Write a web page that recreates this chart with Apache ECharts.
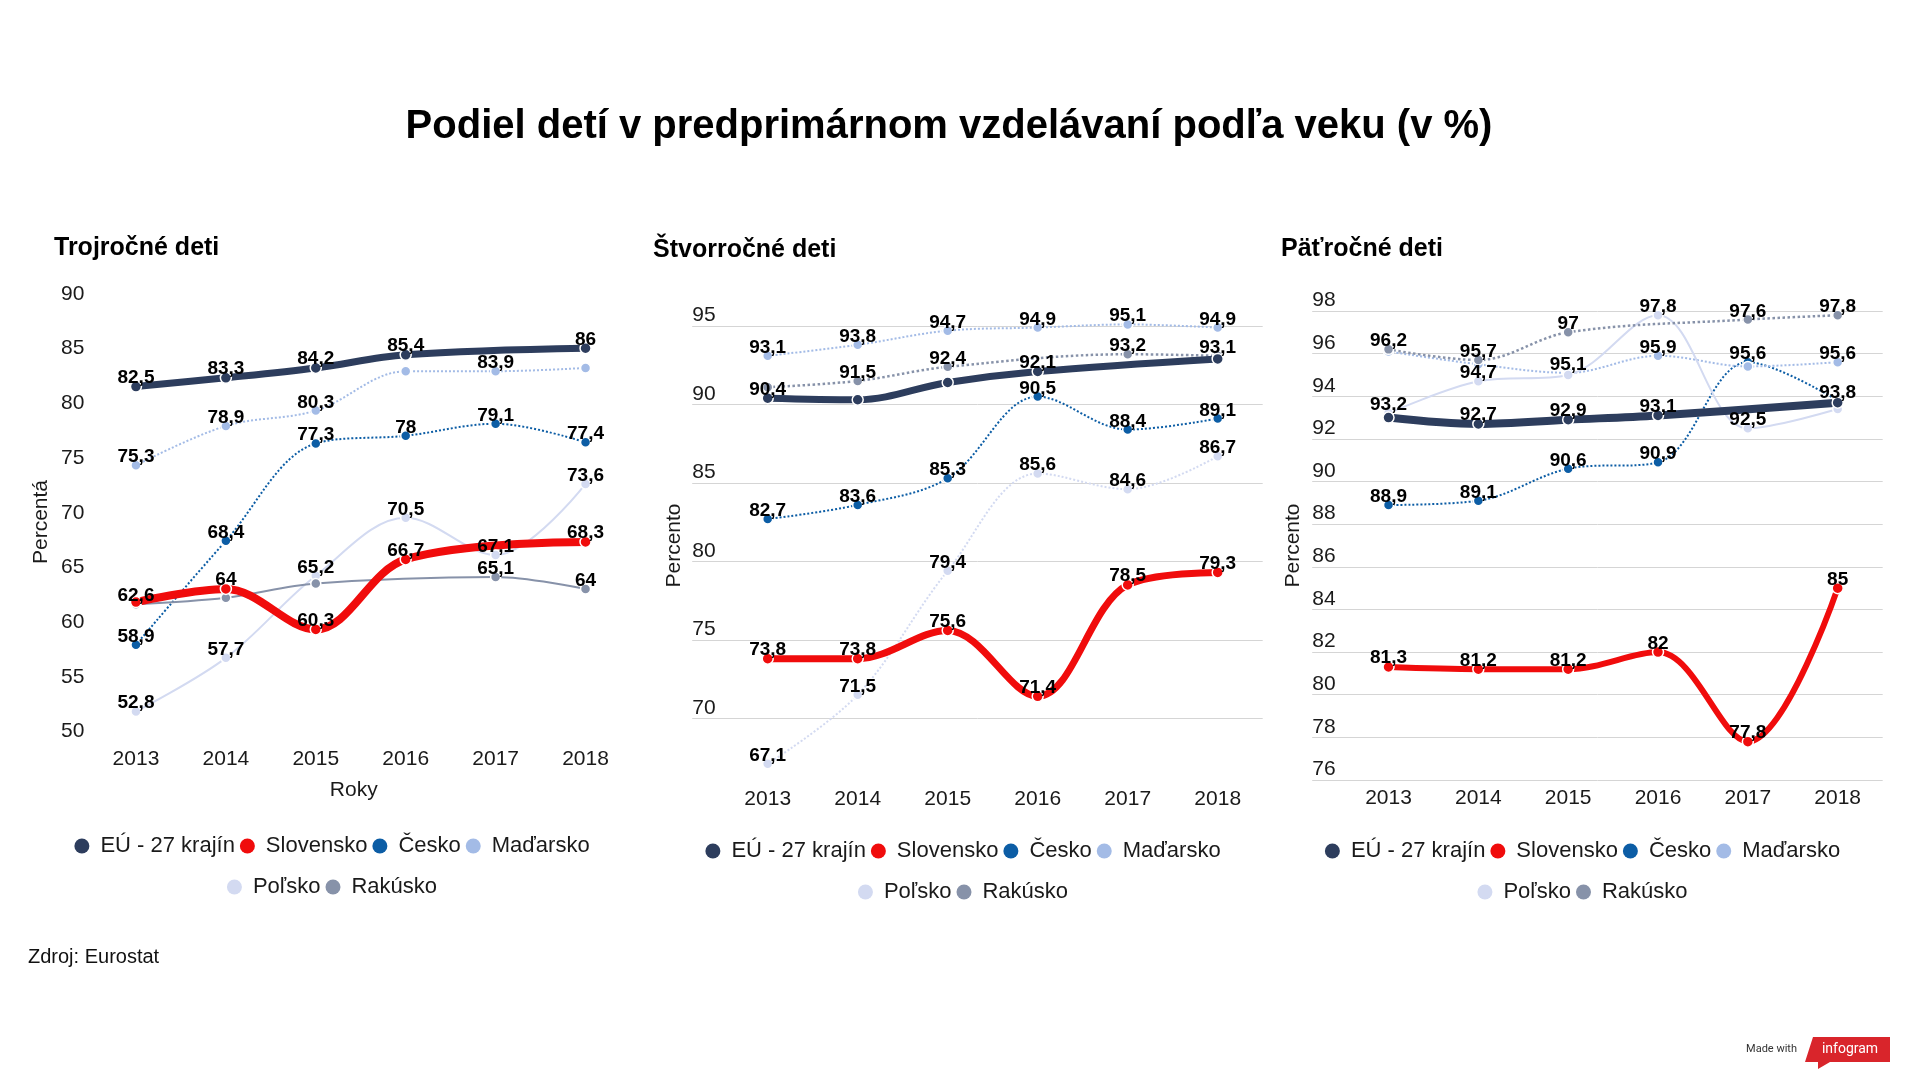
<!DOCTYPE html>
<html><head><meta charset="utf-8">
<script src="https://cdn.jsdelivr.net/npm/echarts@6/dist/echarts.min.js"></script>
<style>
html,body{margin:0;padding:0;background:#fff;width:1920px;height:1080px;overflow:hidden}
.c{position:absolute;top:0;height:1080px}
</style></head><body>
<div id="main" class="c" style="left:0;width:1920px"></div>
<div id="c1" class="c" style="left:0;width:664px"></div>
<div id="c2" class="c" style="left:643px;width:640px"></div>
<div id="c3" class="c" style="left:1245px;width:675px"></div>
<script>
// ---------- data ----------
const years = ['2013', '2014', '2015', '2016', '2017', '2018'];
const countries = ['EÚ - 27 krajín', 'Slovensko', 'Česko', 'Maďarsko', 'Poľsko', 'Rakúsko'];

// Trojročné deti (3-year-olds)
const age3EU = [82.5, 83.3, 84.2, 85.4, null, 86];
const age3SK = [62.8, 64, 60.3, 66.7, null, 68.3];
const age3CZ = [58.9, 68.4, 77.3, 78, 79.1, 77.4];
const age3HU = [75.3, 78.9, 80.3, 83.9, 83.9, 84.2];
const age3PL = [52.8, 57.7, 65.2, 70.5, 67.1, 73.6];
const age3AT = [62.6, 63.2, 64.5, null, 65.1, 64];

// Štvorročné deti (4-year-olds)
const age4EU = [90.4, 90.3, 91.4, 92.1, null, 92.9];
const age4SK = [73.8, 73.8, 75.6, 71.4, 78.5, 79.3];
const age4CZ = [82.7, 83.6, 85.3, 90.5, 88.4, 89.1];
const age4HU = [93.1, 93.8, 94.7, 94.9, 95.1, 94.9];
const age4PL = [67.1, 71.5, 79.4, 85.6, 84.6, 86.7];
const age4AT = [91.1, 91.5, 92.4, null, 93.2, 93.1];

// Päťročné deti (5-year-olds)
const age5EU = [93.0, 92.7, 92.9, 93.1, null, 93.7];
const age5SK = [81.3, 81.2, 81.2, 82, 77.8, 85];
const age5CZ = [88.9, 89.1, 90.6, 90.9, 95.6, 93.8];
const age5HU = [96.1, 95.5, 95.1, 95.9, 95.4, 95.6];
const age5PL = [93.2, 94.7, 95.0, 97.8, 92.5, 93.4];
const age5AT = [96.2, 95.7, 97, null, 97.6, 97.8];

// indices of points whose value label is not printed (per country order above)
const hidden3 = [[], [0], [], [3, 5], [], [1, 2]];
const hidden4 = [[1, 2, 5], [], [], [], [], [0]];
const hidden5 = [[0, 5], [], [], [0, 1, 4], [2, 5], []];

// ---------- styling ----------
const FONT = '"Liberation Sans", Arial, Helvetica, sans-serif';
const TXT = '#1a1a1a';
const colors = ['#2d3d5d', '#f00c0c', '#0c5da5', '#a3bbe6', '#d3daf1', '#8792a9'];
const drawOrder = [2, 3, 4, 5, 0, 1];

function fmt(v) { return String(v).replace('.', ','); }

function makeSeries(vals, hidden, styles) {
  return drawOrder.map(function (k) {
    const st = styles[k];
    return {
      type: 'line', name: countries[k], xAxisIndex: 0, yAxisIndex: 0,
      data: vals[k].map(function (v, i) {
        if (v == null) return null;
        return hidden[k].indexOf(i) >= 0 ? { value: v, label: { show: false } } : v;
      }),
      smooth: 0.35, connectNulls: true,
      symbol: 'circle', symbolSize: st.s, showSymbol: true,
      lineStyle: { color: colors[k], width: st.w, type: st.t },
      itemStyle: { color: colors[k], borderColor: '#fff', borderWidth: 1.5 },
      label: {
        show: true, position: 'top', distance: -7,
        formatter: function (p) { return fmt(p.value); },
        fontFamily: FONT, fontWeight: 'bold', fontSize: 19, color: '#000'
      },
      emphasis: { disabled: true }
    };
  });
}

function makeOption(c) {
  const yCommon = { type: 'value', min: c.min, max: c.max };
  if (c.interval) yCommon.interval = c.interval;
  if (c.splitNumber) yCommon.splitNumber = c.splitNumber;
  const legendBase = {
    icon: 'circle', itemWidth: 27, itemHeight: 15, itemGap: 5, left: 'center',
    itemStyle: { borderWidth: 0 },
    textStyle: { fontFamily: FONT, fontSize: 22, color: TXT },
    selectedMode: false
  };
  return {
    animation: false,
    textStyle: { fontFamily: FONT },
    graphic: [
      {
        type: 'text', left: c.subX, top: c.subY,
        style: { text: c.sub, font: 'bold 25px ' + FONT, fill: '#000' }
      },
      {
        type: 'text', x: c.yNameX, y: c.yNameY, rotation: Math.PI / 2,
        style: { text: c.yName, font: '21px ' + FONT, fill: TXT, align: 'center', verticalAlign: 'middle' }
      }
    ],
    grid: [
      { left: c.aL, width: c.aW, top: c.top, height: c.h },
      { left: c.bL, width: c.bW, top: c.top, height: c.h }
    ],
    xAxis: [
      {
        gridIndex: 0, type: 'category', data: years, boundaryGap: true,
        axisLine: { show: false }, axisTick: { show: false },
        axisLabel: { margin: c.xMargin, fontSize: 21, color: TXT, fontFamily: FONT },
        name: c.xName || '', nameLocation: 'middle', nameGap: 37.5,
        nameTextStyle: { fontSize: 21, color: TXT, fontFamily: FONT, padding: [0, 14, 0, 0] }
      },
      { gridIndex: 1, type: 'value', show: false, min: 0, max: 1 }
    ],
    yAxis: [
      Object.assign({ gridIndex: 0, show: false }, yCommon),
      Object.assign({
        gridIndex: 1,
        axisLine: { show: false }, axisTick: { show: false },
        axisLabel: {
          inside: true, margin: 0, verticalAlign: 'bottom', fontSize: 21, color: TXT, fontFamily: FONT,
          showMinLabel: c.endLabels, showMaxLabel: c.endLabels
        },
        splitLine: {
          show: c.split, lineStyle: { color: '#d5d5d5', width: 1 },
          showMinLine: c.endLines, showMaxLine: c.endLines
        }
      }, yCommon)
    ],
    legend: [
      Object.assign({ top: c.lg1, data: countries.slice(0, 4) }, legendBase),
      Object.assign({ top: c.lg2, data: countries.slice(4) }, legendBase)
    ],
    series: makeSeries(c.vals, c.hidden, c.styles)
  };
}

const thin = { s: 10, w: 2, t: 'solid' };
const dot = { s: 10, w: 2, t: 'dotted' };

const cfg1 = {
  sub: 'Trojročné deti', subX: 54, subY: 236,
  aL: 91, aW: 539.5, bL: 61, bW: 569.5, top: 304.5, h: 437.6, xMargin: 7,
  min: 50, max: 90, interval: 5, endLabels: true, endLines: true, split: false,
  yName: 'Percentá', yNameX: 41, yNameY: 522, xName: 'Roky',
  lg1: 830, lg2: 871,
  vals: [age3EU, age3SK, age3CZ, age3HU, age3PL, age3AT], hidden: hidden3,
  styles: [{ s: 11, w: 7, t: 'solid' }, { s: 11, w: 8, t: 'solid' }, dot, dot, thin, thin]
};
const cfg2 = {
  sub: 'Štvorročné deti', subX: 10, subY: 238,
  aL: 79.7, aW: 540, bL: 49.2, bW: 570.5, top: 310.3, h: 470.8, xMargin: 8,
  min: 66, max: 96, splitNumber: 6, endLabels: false, endLines: false, split: true,
  yName: 'Percento', yNameX: 31, yNameY: 545.5,
  lg1: 835, lg2: 876,
  vals: [age4EU, age4SK, age4CZ, age4HU, age4PL, age4AT], hidden: hidden4,
  styles: [{ s: 11, w: 7, t: 'solid' }, { s: 11, w: 7, t: 'solid' }, dot, dot, dot, { s: 10, w: 2.5, t: 'dotted' }]
};
const cfg3 = {
  sub: 'Päťročné deti', subX: 36, subY: 237,
  aL: 98.6, aW: 539, bL: 67.2, bW: 570.5, top: 311, h: 469, xMargin: 8,
  min: 76, max: 98, interval: 2, endLabels: true, endLines: true, split: true,
  yName: 'Percento', yNameX: 48.5, yNameY: 545.5,
  lg1: 835, lg2: 876,
  vals: [age5EU, age5SK, age5CZ, age5HU, age5PL, age5AT], hidden: hidden5,
  styles: [{ s: 11, w: 8, t: 'solid' }, { s: 11, w: 6, t: 'solid' }, dot, dot, thin, { s: 10, w: 2.5, t: 'dotted' }]
};

echarts.init(document.getElementById('c1')).setOption(makeOption(cfg1));
echarts.init(document.getElementById('c2')).setOption(makeOption(cfg2));
echarts.init(document.getElementById('c3')).setOption(makeOption(cfg3));

// ---------- page title, source and badge ----------
echarts.init(document.getElementById('main')).setOption({
  animation: false,
  graphic: [
    { type: 'text', x: 949, y: 126.5, style: { text: 'Podiel detí v predprimárnom vzdelávaní podľa veku (v %)', font: 'bold 40px ' + FONT, fill: '#000', align: 'center', verticalAlign: 'middle' } },
    { type: 'text', x: 28, y: 957, style: { text: 'Zdroj: Eurostat', font: '20px ' + FONT, fill: '#111', align: 'left', verticalAlign: 'middle' } },
    { type: 'text', x: 1797, y: 1049, style: { text: 'Made with', font: '11px Roboto, ' + FONT, fill: '#333', align: 'right', verticalAlign: 'middle' } },
    { type: 'polygon', shape: { points: [[1813, 1037], [1890, 1037], [1890, 1062], [1830, 1062], [1818, 1069], [1818, 1062], [1805, 1062]] }, style: { fill: '#d9252b' } },
    { type: 'text', x: 1850, y: 1049, style: { text: 'infogram', font: '14px Roboto, ' + FONT, fill: '#fff', align: 'center', verticalAlign: 'middle' } }
  ]
});
</script>
</body></html>
